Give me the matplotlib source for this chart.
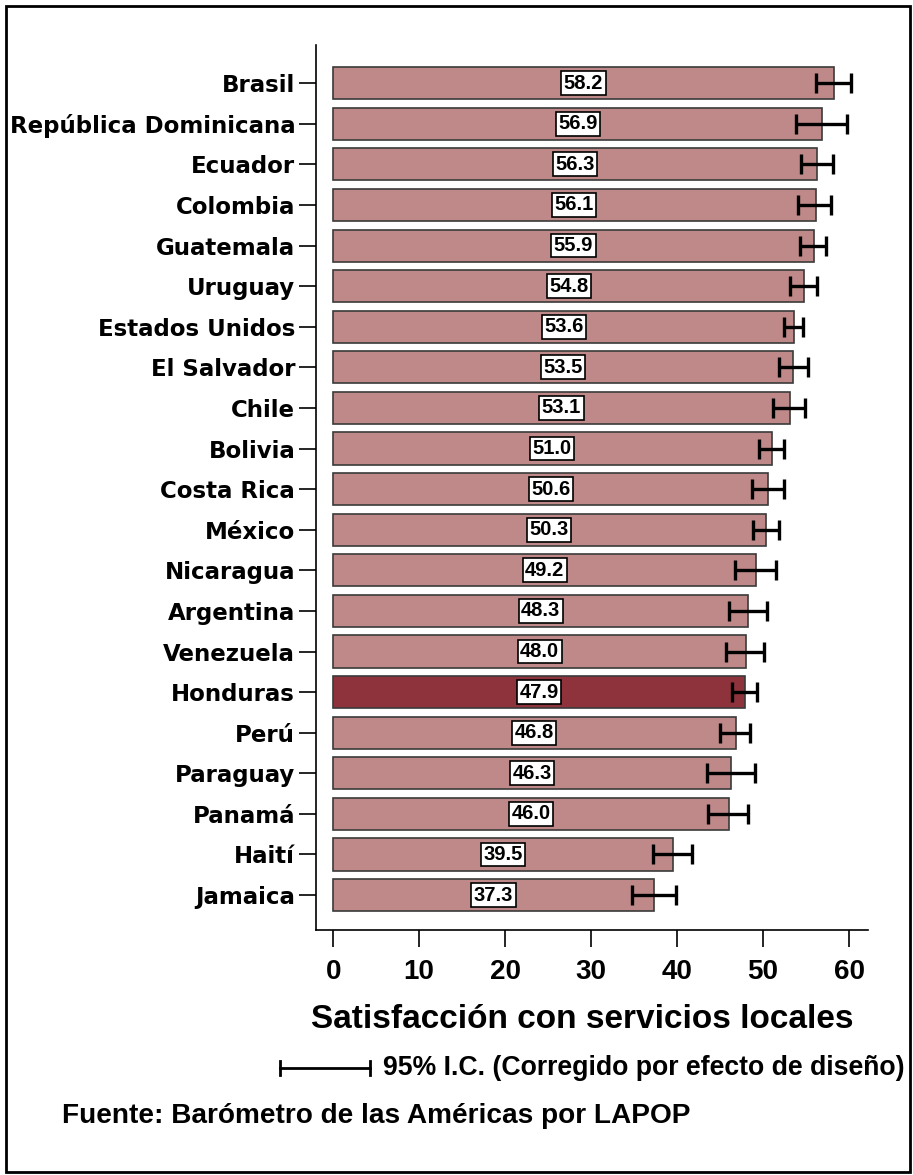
"""
plot.py
Satisfaccion con servicios locales - grafikon po zemljama
"""

import matplotlib.pyplot as plt
from matplotlib.patches import Rectangle
from matplotlib.lines import Line2D
import numpy as np

# -------------------------------
# PODACI
# -------------------------------

paises = ['Brasil', 'República Dominicana', 'Ecuador', 'Colombia', 'Guatemala',
          'Uruguay', 'Estados Unidos', 'El Salvador', 'Chile', 'Bolivia',
          'Costa Rica', 'México', 'Nicaragua', 'Argentina', 'Venezuela',
          'Honduras', 'Perú', 'Paraguay', 'Panamá', 'Haití', 'Jamaica']
valores = [58.2, 56.9, 56.3, 56.1, 55.9, 54.8, 53.6, 53.5, 53.1, 51.0,
           50.6, 50.3, 49.2, 48.3, 48.0, 47.9, 46.8, 46.3, 46.0, 39.5, 37.3]
ic_bajo = [56.1, 53.8, 54.4, 54.1, 54.3, 53.1, 52.4, 51.9, 51.1, 49.5,
           48.7, 48.8, 46.7, 46.0, 45.7, 46.4, 45.0, 43.5, 43.6, 37.2, 34.7]
ic_alto = [60.2, 59.7, 58.1, 57.9, 57.3, 56.3, 54.6, 55.2, 54.9, 52.4,
           52.4, 51.9, 51.5, 50.4, 50.1, 49.3, 48.5, 49.1, 48.2, 41.7, 39.9]
xticks = [0, 10, 20, 30, 40, 50, 60]
destacado = 'Honduras'

COLOR_BAR = '#BF8989'
COLOR_DEST = '#8E333C'
ARIAL = ['Liberation Sans', 'DejaVu Sans']
WIDE = ['DejaVu Sans']

# -------------------------------
# GRAFIKON
# -------------------------------

fig = plt.figure(figsize=(9.13, 11.75), dpi=100)
W, H = 913, 1175
ax = fig.add_axes([316 / W, 1 - 930 / H, (868 - 316) / W, (930 - 45) / H])

y = np.arange(len(paises))
vals = np.array(valores)
colors = [COLOR_DEST if p == destacado else COLOR_BAR for p in paises]

ax.barh(y, vals, height=0.79, color=colors, edgecolor='#3a3a3a', linewidth=1.2, zorder=2)

err = [vals - np.array(ic_bajo), np.array(ic_alto) - vals]
ax.errorbar(vals, y, xerr=err, fmt='none', ecolor='black', elinewidth=2.4,
            capsize=7.5, capthick=2.4, zorder=3)

for yi, v in zip(y, vals):
    ax.text(v / 2, yi, f'{v:.1f}', ha='center', va='center', fontsize=14.5,
            fontweight='bold', family=ARIAL, zorder=4,
            bbox=dict(boxstyle='square,pad=0.12', facecolor='white',
                      edgecolor='black', linewidth=1.2))

ax.set_xlim(-2, 62.2)
ax.set_ylim(len(paises) - 1 + 0.86, -0.94)
ax.set_yticks(y)
ax.set_yticklabels(paises, fontsize=16.5, fontweight='bold', family=WIDE)
ax.set_xticks(xticks)
ax.set_xticklabels([str(t) for t in xticks], fontsize=20, fontweight='bold', family=ARIAL)
ax.tick_params(axis='y', length=12, width=1.2, pad=3)
ax.tick_params(axis='x', length=12, width=1.2, pad=9)
ax.spines['top'].set_visible(False)
ax.spines['right'].set_visible(False)
ax.spines['left'].set_linewidth(1.2)
ax.spines['bottom'].set_linewidth(1.2)

# naslov ose
fig.text(582 / W, 1 - 1020 / H, 'Satisfacción con servicios locales', ha='center',
         va='center', fontsize=24, fontweight='bold', family=ARIAL)

# legenda za interval povjerenja
yl = 1 - 1068 / H
fig.add_artist(Line2D([280 / W, 370 / W], [yl, yl], color='black', linewidth=2))
for xc in (280, 370):
    fig.add_artist(Line2D([xc / W, xc / W], [yl - 7 / H, yl + 7 / H], color='black', linewidth=2))
fig.text(383 / W, yl, '95% I.C. (Corregido por efecto de diseño)', ha='left', va='center',
         fontsize=19.2, fontweight='bold', family=ARIAL)

fig.text(62 / W, 1 - 1116 / H, 'Fuente: Barómetro de las Américas por LAPOP', ha='left',
         va='center', fontsize=20.2, fontweight='bold', family=ARIAL)

# okvir
fig.add_artist(Rectangle((6 / W, 3 / H), (910 - 6) / W, (1169 - 3) / H, transform=fig.transFigure,
                         fill=False, edgecolor='black', linewidth=2))

plt.savefig('out.png', dpi=100)
plt.close()
